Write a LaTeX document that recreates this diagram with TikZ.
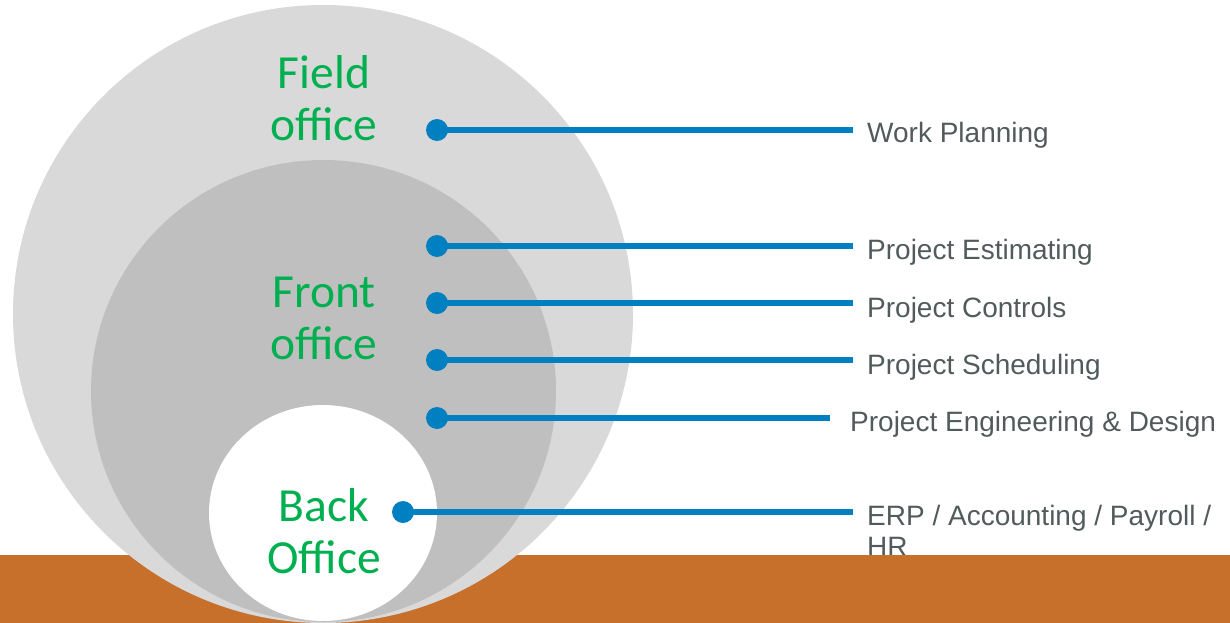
\documentclass[tikz,border=0pt]{standalone}
\usepackage{fontspec}
\setmainfont{Liberation Sans}
\newfontfamily\calibri{Carlito}
\usetikzlibrary{positioning}

\definecolor{fieldgray}{HTML}{D9D9D9}
\definecolor{frontgray}{HTML}{BFBFBF}
\definecolor{ground}{HTML}{C7702C}
\definecolor{linkblue}{HTML}{0080C0}
\definecolor{titlegreen}{HTML}{00B050}
\definecolor{labelgray}{HTML}{525B5B}

\begin{document}
\begin{tikzpicture}[x=1pt,y=-1pt,
  dot/.style={circle,fill=linkblue,inner sep=0pt,minimum size=22pt},
  link/.style={linkblue,line width=6pt},
  task/.style={anchor=base west,text=labelgray,inner xsep=14pt,inner ysep=0pt,
    font=\fontsize{28}{31}\selectfont,align=left},
  office/.style={text=titlegreen,align=center,inner sep=0pt,
    font=\calibri\fontsize{47.5}{52}\selectfont}]
\useasboundingbox (0,0) rectangle (1230,623);

% task labels (right side)
\node[task] (work) at (853,142) {Work Planning};
\node[task] (estim) at (853,259) {Project Estimating};
\node[task] (contr) at (853,317) {Project Controls};
\node[task] (sched) at (853,374) {Project Scheduling};
\node[task,inner xsep=20pt] (engin) at (830,431) {Project Engineering \& Design};
\node[task] (erp) at (853,556) {ERP / Accounting / Payroll /\\HR}; % base = last line

% ground
\fill[ground] (0,555) rectangle (1230,623);

% offices
\fill[fieldgray] (323,314) ellipse (310 and 309);
\fill[frontgray] (323.5,391) ellipse (232.5 and 231);
\fill[white] (323,513) ellipse (114 and 108);

\node[office] (field) at (324,98) {Field\\office};
\node[office] (front) at (324,318) {Front\\office};
\node[office] (back) at (324,531) {Back\\Office};

% dots and links
\node[dot] (d1) at (437,130) {};
\node[dot] (d2) at (437,246) {};
\node[dot] (d3) at (437,303) {};
\node[dot] (d4) at (437,360) {};
\node[dot] (d5) at (437,418) {};
\node[dot] (d6) at (403,512) {};

\draw[link] (d1.center) -- (d1 -| work.west);
\draw[link] (d2.center) -- (d2 -| estim.west);
\draw[link] (d3.center) -- (d3 -| contr.west);
\draw[link] (d4.center) -- (d4 -| sched.west);
\draw[link] (d5.center) -- (d5 -| engin.west);
\draw[link] (d6.center) -- (d6 -| erp.west);

\end{tikzpicture}
\end{document}
